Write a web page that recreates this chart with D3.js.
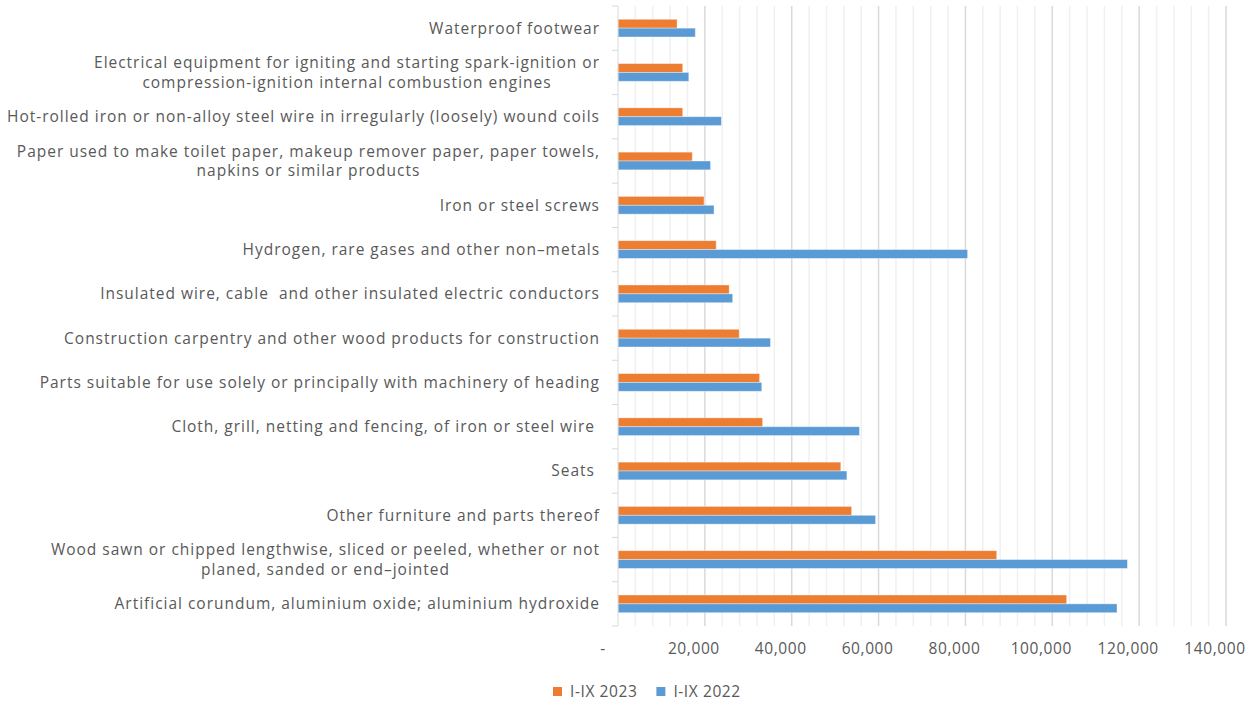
<!DOCTYPE html>
<html>
<head>
<meta charset="utf-8">
<script src="https://cdn.jsdelivr.net/npm/d3@7"></script>
<style>
  html, body { margin: 0; padding: 0; background: #fff; }
  svg { display: block; }
  text { font-family: "Open Sans", "Lato", sans-serif; fill: #595959; }
</style>
</head>
<body>
<svg id="chart" width="1254" height="702"></svg>
<script>
const categories = [
  "Waterproof footwear",
  "Electrical equipment for igniting and starting spark-ignition or\ncompression-ignition internal combustion engines",
  "Hot-rolled iron or non-alloy steel wire in irregularly (loosely) wound coils",
  "Paper used to make toilet paper, makeup remover paper, paper towels,\nnapkins or similar products",
  "Iron or steel screws",
  "Hydrogen, rare gases and other non–metals",
  "Insulated wire, cable  and other insulated electric conductors",
  "Construction carpentry and other wood products for construction",
  "Parts suitable for use solely or principally with machinery of heading",
  "Cloth, grill, netting and fencing, of iron or steel wire ",
  "Seats ",
  "Other furniture and parts thereof",
  "Wood sawn or chipped lengthwise, sliced or peeled, whether or not\nplaned, sanded or end–jointed",
  "Artificial corundum, aluminium oxide; aluminium hydroxide"
];
const values2023 = [13600, 14900, 14900, 17100, 19800, 22600, 25600, 27900, 32600, 33300, 51300, 53800, 87200, 103300];
const values2022 = [17800, 16300, 23800, 21300, 22100, 80500, 26400, 35100, 33100, 55600, 52700, 59300, 117300, 114900];
const seriesNames = ["I-IX 2023", "I-IX 2022"];
const seriesColors = ["#ED7D31", "#5B9BD5"];
const xMax = 140000;
const majorTicks = [0, 20000, 40000, 60000, 80000, 100000, 120000, 140000];
const minorStep = 4000;

const svg = d3.select("#chart");
const margin = { left: 618, right: 28, top: 6, bottom: 76 };
const W = 1254, H = 702;
const plotW = W - margin.left - margin.right;
const plotH = H - margin.top - margin.bottom;

const fs = 15.5;
function measure(str, size, ls) {
  const s = svg.append("text").attr("font-size", size).attr("letter-spacing", ls || 0)
    .style("white-space", "pre").text(str);
  const w = s.node().getComputedTextLength(); s.remove(); return w;
}
// letter spacing so the longest single-line label spans ~593px like the reference
const longest = categories[2];
const ls = Math.max(0, (593 - measure(longest, fs, 0)) / longest.length);

const g = svg.append("g").attr("transform", `translate(${margin.left},${margin.top})`);

const x = d3.scaleLinear().domain([0, xMax]).range([0, plotW]);
const y = d3.scaleBand().domain(categories).range([0, plotH]).paddingInner(0.6).paddingOuter(0.3);
const ySub = d3.scaleBand().domain(seriesNames).range([0, y.bandwidth()]);

// minor gridlines
const minorTicks = d3.range(minorStep, xMax, minorStep).filter(v => v % 20000 !== 0);
g.append("g").selectAll("line").data(minorTicks).join("line")
  .attr("x1", d => x(d)).attr("x2", d => x(d))
  .attr("y1", 0).attr("y2", plotH)
  .attr("stroke", "#f0f0f0").attr("stroke-width", 1.5);
// major gridlines
g.append("g").selectAll("line").data(majorTicks.filter(d => d > 0)).join("line")
  .attr("x1", d => x(d)).attr("x2", d => x(d))
  .attr("y1", 0).attr("y2", plotH)
  .attr("stroke", "#d9d9d9").attr("stroke-width", 1.5);

// bars
const rows = categories.map((c, i) => ({ c, vals: [values2023[i], values2022[i]] }));
const grp = g.append("g").selectAll("g").data(rows).join("g")
  .attr("transform", d => `translate(0,${y(d.c)})`);
grp.selectAll("rect").data(d => d.vals.map((v, k) => ({ v, k }))).join("rect")
  .attr("x", 0)
  .attr("y", d => ySub(seriesNames[d.k]))
  .attr("width", d => x(d.v))
  .attr("height", ySub.bandwidth())
  .attr("fill", d => seriesColors[d.k])
  .attr("stroke", "rgba(255,255,255,0.45)").attr("stroke-width", 0.8);

// y axis line and ticks at category boundaries
g.append("line").attr("x1", 0).attr("x2", 0).attr("y1", 0).attr("y2", plotH)
  .attr("stroke", "#d9d9d9").attr("stroke-width", 1);
const bounds = d3.range(categories.length + 1).map(i => i * (plotH / categories.length));
g.append("g").selectAll("line").data(bounds).join("line")
  .attr("x1", -6).attr("x2", 0).attr("y1", d => d).attr("y2", d => d)
  .attr("stroke", "#d9d9d9").attr("stroke-width", 1);

// category labels
const labelG = g.append("g");
categories.forEach(c => {
  const lines = c.split("\n");
  const cy = y(c) + y.bandwidth() / 2;
  const lh = 19.5;
  const t = labelG.append("text")
    .attr("font-size", fs)
    .attr("letter-spacing", ls)
    .attr("text-anchor", "end")
    .style("white-space", "pre")
    .attr("transform", `translate(-18,${cy})`);
  if (lines.length === 1) {
    t.append("tspan").attr("x", 0).attr("dy", "0.35em").text(lines[0]);
  } else {
    const widths = lines.map(l => measure(l, fs, ls));
    const maxW = d3.max(widths);
    lines.forEach((l, i) => {
      t.append("tspan")
        .attr("x", -(maxW - widths[i]) / 2)
        .attr("y", (i - (lines.length - 1) / 2) * lh)
        .attr("dy", "0.35em")
        .text(l);
    });
  }
});

// x tick labels
g.append("g").selectAll("text").data(majorTicks).join("text")
  .attr("x", d => x(d) + (d === 0 ? -15 : -11))
  .attr("y", plotH + 28)
  .attr("text-anchor", "middle")
  .attr("font-size", fs)
  .attr("letter-spacing", ls * 0.6)
  .text(d => d === 0 ? "-" : d3.format(",")(d));

// legend
const legend = svg.append("g").attr("transform", "translate(553,692)");
let lx = 0;
seriesNames.forEach((s, i) => {
  const item = legend.append("g").attr("transform", `translate(${lx},0)`);
  item.append("rect").attr("x", 0).attr("y", -5).attr("width", 9).attr("height", 9).attr("fill", seriesColors[i]);
  const t = item.append("text").attr("x", 17).attr("y", 0).attr("dy", "0.35em")
    .attr("font-size", fs).attr("letter-spacing", ls * 0.6).text(s);
  lx += 17 + t.node().getComputedTextLength() + 19;
});
</script>
</body>
</html>
